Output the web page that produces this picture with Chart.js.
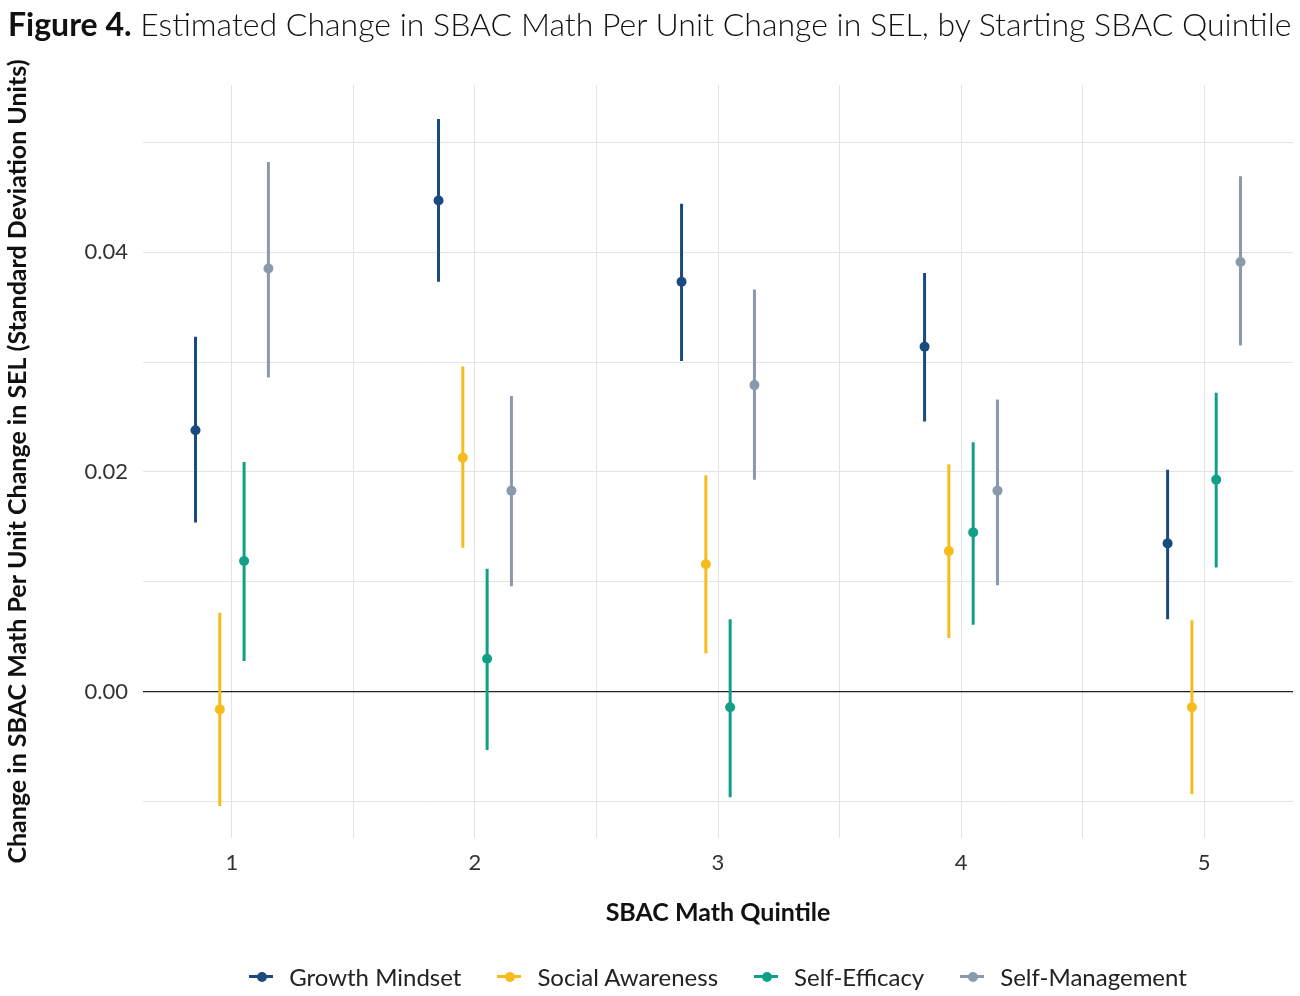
<!DOCTYPE html>
<html>
<head>
<meta charset="utf-8">
<script src="https://cdn.jsdelivr.net/npm/chart.js@4.4.0/dist/chart.umd.min.js"></script>
<style>
  body { margin: 0; background: #fff; font-family: Lato, "Open Sans", sans-serif; }
  #page { position: relative; width: 1300px; height: 996px; overflow: hidden; }
  #title { position: absolute; left: 8px; top: 4px; font-size: 32px; font-weight: 300; color: #111; white-space: nowrap; }
  #title b { font-weight: 700; }
  #chart { position: absolute; left: 0; top: 0; }
  #legend { position: absolute; left: 143px; width: 1150px; top: 962px; display: flex; justify-content: center; font-size: 24px; color: #222; }
  .item { display: flex; align-items: center; margin: 0 18px; }
  .mk { position: relative; width: 24px; height: 3px; margin-right: 16px; }
  .mk::after { content: ""; position: absolute; left: 7.5px; top: -3.5px; width: 10px; height: 10px; border-radius: 50%; background: inherit; }
</style>
</head>
<body>
<div id="page">
  <canvas id="chart" width="1300" height="996"></canvas>
  <div id="title"><b>Figure 4.</b> Estimated Change in SBAC Math Per Unit Change in SEL, by Starting SBAC Quintile</div>
  <div id="legend"></div>
</div>
<script>
const quintiles = [1, 2, 3, 4, 5];
const seriesNames = ["Growth Mindset", "Social Awareness", "Self-Efficacy", "Self-Management"];
const seriesColors = ["#1b4a7e", "#f7bc1b", "#11a087", "#8a99ab"];
const dodge = [-0.15, -0.05, 0.05, 0.15];

const growthEst  = [0.0238, 0.0447, 0.0373, 0.0314, 0.0135];
const growthLow  = [0.0154, 0.0373, 0.0301, 0.0246, 0.0066];
const growthHigh = [0.0323, 0.0521, 0.0444, 0.0381, 0.0202];

const socialEst  = [-0.0016, 0.0213, 0.0116, 0.0128, -0.0014];
const socialLow  = [-0.0104, 0.0131, 0.0035, 0.0049, -0.0093];
const socialHigh = [0.0072, 0.0296, 0.0197, 0.0207, 0.0065];

const efficacyEst  = [0.0119, 0.0030, -0.0014, 0.0145, 0.0193];
const efficacyLow  = [0.0028, -0.0053, -0.0096, 0.0061, 0.0113];
const efficacyHigh = [0.0209, 0.0112, 0.0066, 0.0227, 0.0272];

const mgmtEst  = [0.0385, 0.0183, 0.0279, 0.0183, 0.0391];
const mgmtLow  = [0.0286, 0.0096, 0.0193, 0.0097, 0.0315];
const mgmtHigh = [0.0482, 0.0269, 0.0366, 0.0266, 0.0469];

const yGridValues = [-0.01, 0, 0.01, 0.02, 0.03, 0.04, 0.05];
const yLabeled = [0, 0.02, 0.04];
const xGridValues = [1, 1.5, 2, 2.5, 3, 3.5, 4, 4.5, 5];

const estimates = [growthEst, socialEst, efficacyEst, mgmtEst];
const lows = [growthLow, socialLow, efficacyLow, mgmtLow];
const highs = [growthHigh, socialHigh, efficacyHigh, mgmtHigh];

// each quintile: low -> estimate -> high, then a gap
function buildPoints(s) {
  const pts = [];
  quintiles.forEach((q, i) => {
    const x = q + dodge[s];
    pts.push({ x, y: lows[s][i] }, { x, y: estimates[s][i] }, { x, y: highs[s][i] }, { x, y: null });
  });
  return pts;
}

const datasets = seriesNames.map((name, s) => ({
  label: name,
  data: buildPoints(s),
  borderColor: seriesColors[s],
  backgroundColor: seriesColors[s],
  borderWidth: 3,
  borderCapStyle: "butt",
  spanGaps: false,
  pointRadius: ctx => ctx.dataIndex % 4 === 1 ? 5 : 0,
  pointHoverRadius: ctx => ctx.dataIndex % 4 === 1 ? 5 : 0,
  pointBorderWidth: 0
}));

new Chart(document.getElementById("chart"), {
  type: "line",
  data: { datasets },
  options: {
    responsive: false,
    animation: false,
    devicePixelRatio: 1,
    layout: { padding: { top: 85, left: 0, right: 7, bottom: 68 } },
    plugins: { legend: { display: false }, tooltip: { enabled: false } },
    scales: {
      x: {
        type: "linear",
        min: 0.634,
        max: 5.366,
        afterBuildTicks: scale => { scale.ticks = xGridValues.map(v => ({ value: v })); },
        afterFit: scale => { scale.height = 90; },
        ticks: {
          autoSkip: false,
          maxRotation: 0,
          padding: 12,
          color: "#333",
          font: { family: "Lato", size: 22 },
          callback: v => Number.isInteger(v) ? String(v) : ""
        },
        grid: { color: "#e3e3e3", lineWidth: 1, drawTicks: false },
        border: { display: false },
        title: {
          display: true,
          text: "SBAC Math Quintile",
          color: "#111",
          font: { family: "Lato", size: 25, weight: "bold" },
          padding: { top: 0, bottom: 0 }
        }
      },
      y: {
        type: "linear",
        min: -0.0133,
        max: 0.0552,
        afterBuildTicks: scale => { scale.ticks = yGridValues.map(v => ({ value: v })); },
        afterFit: scale => { scale.width = 143; },
        ticks: {
          autoSkip: false,
          padding: 15,
          color: "#333",
          font: { family: "Lato", size: 22 },
          callback: v => yLabeled.includes(v) ? v.toFixed(2) : ""
        },
        grid: {
          color: ctx => ctx.tick && ctx.tick.value === 0 ? "#222" : "#e3e3e3",
          lineWidth: ctx => ctx.tick && ctx.tick.value === 0 ? 1.3 : 1,
          drawTicks: false
        },
        border: { display: false },
        title: {
          display: true,
          text: "Change in SBAC Math Per Unit Change in SEL (Standard Deviation Units)",
          color: "#111",
          font: { family: "Lato", size: 25, weight: "bold" },
          padding: { top: 3, bottom: 0 }
        }
      }
    }
  }
});

const legend = document.getElementById("legend");
seriesNames.forEach((name, s) => {
  const item = document.createElement("div");
  item.className = "item";
  const mk = document.createElement("span");
  mk.className = "mk";
  mk.style.background = seriesColors[s];
  item.appendChild(mk);
  item.appendChild(document.createTextNode(name));
  legend.appendChild(item);
});
</script>
</body>
</html>
